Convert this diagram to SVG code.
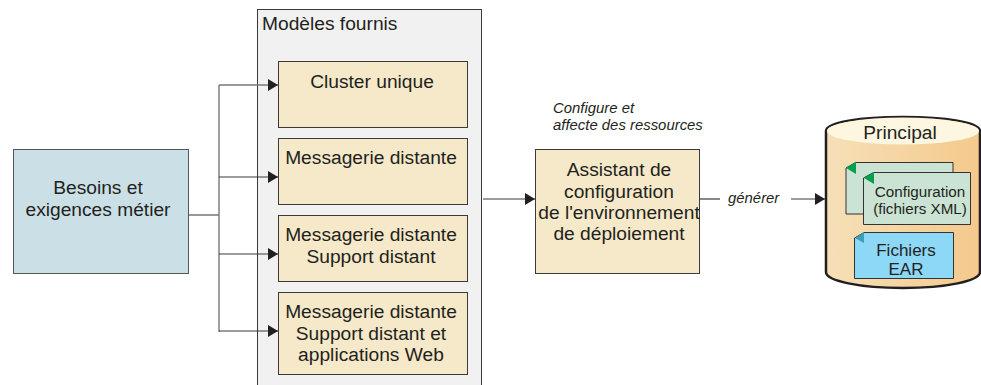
<svg xmlns="http://www.w3.org/2000/svg" width="981" height="385" viewBox="0 0 981 385">
<style>
text{font-family:"Liberation Sans",Arial,sans-serif;fill:#231f20;text-anchor:middle}
.t18{font-size:19.2px}
.t16{font-size:17px}
.t15{font-size:15.200px}
.i{font-size:14.900px;font-style:italic;text-anchor:start}
.box{fill:#f5e9c9;stroke:#3a3a3a;stroke-width:1}
.c{fill:none;stroke:#3a3a3a;stroke-width:1.200}
.g{fill:none;stroke:#777;stroke-width:1.400}
.doc{fill:#cbe3d3;stroke:#333;stroke-width:1}
</style>
<defs>
<marker id="ah" markerUnits="userSpaceOnUse" markerWidth="11" markerHeight="12" refX="10" refY="6" orient="auto"><path d="M0 0L10 6L0 12Z" fill="#231f20"/></marker>
<linearGradient id="cyl" x1="0" x2="1" y1="0" y2="0"><stop offset="0" stop-color="#f6e0b8"/><stop offset="1" stop-color="#f4c98c"/></linearGradient>
</defs>
<g id="panel"><rect x="257.500" y="9.500" width="224" height="376" fill="#f1f1f1" stroke="#3a3a3a"/><text class="t18" x="262" y="30" style="text-anchor:start">Modèles fournis</text></g>
<g id="besoins"><rect x="13.500" y="149.500" width="175" height="124" fill="#cbe0e6" stroke="#555"/><text class="t18" x="98" y="194">Besoins et</text><text class="t18" x="98" y="216">exigences métier</text></g>
<g id="cluster"><rect class="box" x="278.500" y="61.500" width="189" height="66"/><text class="t18" x="372" y="88">Cluster unique</text></g>
<g id="messagerie"><rect class="box" x="278.500" y="138.500" width="189" height="66"/><text class="t18" x="371" y="164">Messagerie distante</text></g>
<g id="support"><rect class="box" x="278.500" y="215.500" width="189" height="66"/><text class="t18" x="371" y="241">Messagerie distante</text><text class="t18" x="371" y="263">Support distant</text></g>
<g id="web"><rect class="box" x="278.500" y="292.500" width="189" height="82"/><text class="t18" x="371" y="318">Messagerie distante</text><text class="t18" x="371" y="340">Support distant et</text><text class="t18" x="371" y="361">applications Web</text></g>
<g id="assistant"><rect class="box" x="535.500" y="149.500" width="164" height="124"/><text class="t18" x="619" y="176">Assistant de</text><text class="t18" x="619" y="198">configuration</text><text class="t18" x="619" y="219">de l'environnement</text><text class="t18" x="619" y="240">de déploiement</text></g>
<g id="principal">
<path d="M826 131V272C826 281 860 288 903 288S980 281 980 272V131C980 122 945 117 903 117S826 122 826 131Z" fill="url(#cyl)" stroke="#231f20" stroke-width="2.500"/>
<ellipse cx="903" cy="131" rx="76" ry="13.500" fill="#fdf6e0"/>
<text class="t18" x="900" y="139">Principal</text>
</g>
<g id="config">
<path class="doc" d="M855.500 162.500H953V214H846V168Z"/>
<path d="M846 168L856 162V174Z" fill="#00a050"/>
<path class="doc" d="M873.500 172.500H970.500V224.500H863.500V178Z"/>
<path d="M864 178L874 172V184Z" fill="#00a050"/>
<text class="t15" x="920" y="197">Configuration</text><text class="t15" x="920" y="214">(fichiers XML)</text>
</g>
<g id="ear">
<path d="M864 232.500H953.500V278.500H854.500V238Z" fill="#8dd7f7" stroke="#333"/>
<path d="M855 238L864 232V243Z" fill="#3d9fb5"/>
<text class="t16" x="906" y="256">Fichiers</text><text class="t16" x="906" y="275">EAR</text>
</g>
<g id="connectors">
<path class="g" d="M189 215H219M219 85V332"/>
<path class="g" d="M219 85H278" marker-end="url(#ah)"/>
<path class="c" d="M219 177H278" marker-end="url(#ah)"/>
<path class="c" d="M219 254H278" marker-end="url(#ah)"/>
<path class="c" d="M219 331H278" marker-end="url(#ah)"/>
<path class="c" d="M483 199H535" marker-end="url(#ah)"/>
<path class="c" d="M699 199H720"/>
<path class="c" d="M791 199H825" marker-end="url(#ah)"/>
</g>
<g id="labels">
<text class="i" x="553" y="113">Configure et</text>
<text class="i" x="553" y="130">affecte des ressources</text>
<text class="i" x="728" y="203">générer</text>
</g>
</svg>
